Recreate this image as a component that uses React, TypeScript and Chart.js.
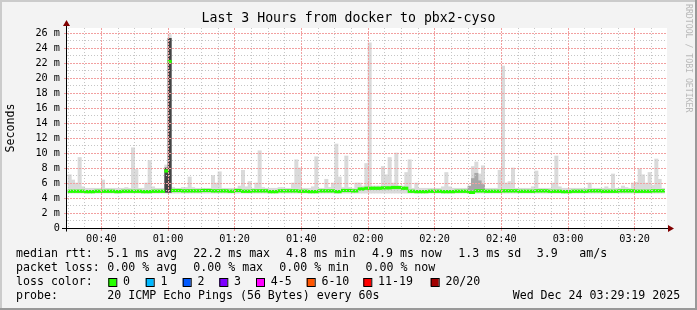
import React, { useEffect, useRef } from 'react';
import { Chart, registerables } from 'chart.js';

Chart.register(...registerables);

const W = 697;
const H = 310;

// ---- data ----
const WINDOW_START = '00:29:42';
const WINDOW_END = '03:29:42';
const FIRST_SAMPLE = '00:30';

// upper edge of the smoke (ms), one value per minute from 00:30
const smokeMax = [
  7.1, 6.4, 6.0, 9.4, 5.5, 5.3, 5.3, 5.3, 5.3, 5.3,
  6.4, 5.3, 5.3, 5.3, 5.3, 5.3, 5.3, 5.4, 5.3, 10.7,
  7.8, 5.3, 5.3, 6.0, 9.0, 5.5, 5.3, 5.3, 5.3, 8.4,
  25.8, 5.4, 5.3, 5.3, 5.4, 5.4, 6.8, 5.4, 5.3, 5.3,
  5.3, 5.3, 5.3, 7.0, 6.0, 7.5, 5.3, 5.3, 5.3, 5.3,
  5.3, 5.6, 7.7, 5.5, 6.2, 5.3, 6.0, 10.3, 5.4, 5.3,
  5.3, 5.3, 5.3, 5.4, 5.4, 5.3, 5.3, 6.0, 9.1, 8.0,
  5.3, 5.3, 5.3, 5.5, 9.5, 5.3, 5.3, 6.5, 5.4, 6.0,
  11.2, 6.8, 5.4, 9.6, 5.4, 5.3, 6.0, 6.0, 5.6, 8.6,
  24.7, 5.6, 5.6, 5.6, 8.2, 7.1, 9.4, 6.0, 10.0, 5.6,
  5.6, 7.4, 9.1, 5.3, 6.0, 5.3, 5.3, 5.3, 5.3, 5.3,
  5.3, 5.3, 5.5, 7.4, 5.5, 5.3, 5.3, 5.3, 5.3, 5.3,
  5.5, 8.2, 8.8, 7.2, 8.3, 5.3, 5.3, 5.3, 5.3, 7.7,
  21.6, 6.0, 6.2, 8.0, 5.3, 5.3, 5.3, 5.3, 5.3, 5.5,
  7.6, 5.3, 5.3, 5.3, 5.3, 6.0, 9.6, 5.5, 5.3, 5.3,
  5.3, 5.3, 5.3, 5.3, 5.3, 5.3, 6.0, 5.3, 5.3, 5.3,
  5.3, 5.5, 5.3, 7.2, 5.3, 5.3, 5.6, 5.4, 5.3, 6.0,
  6.1, 7.9, 7.1, 6.0, 7.4, 5.7, 9.2, 6.5, 5.3, null,
];
const SMOKE_FLOOR = 4.65;

// median rtt (ms), one value per minute from 00:30
const median = [
  4.9, 4.9, 4.9, 4.9, 4.9, 4.85, 4.85, 4.85, 4.9, 4.9,
  4.9, 4.9, 4.9, 4.9, 4.85, 4.85, 4.9, 4.9, 4.9, 4.9,
  4.9, 4.9, 4.85, 4.85, 4.85, 4.9, 4.9, 4.9, 4.9, 7.6,
  22.2, 5.0, 5.0, 5.0, 4.95, 4.95, 4.95, 4.95, 4.95, 4.95,
  5.0, 5.0, 5.0, 4.95, 4.95, 4.95, 4.95, 4.95, 4.9, 4.9,
  5.0, 5.0, 4.9, 4.9, 4.9, 4.95, 4.95, 4.95, 4.95, 4.95,
  4.85, 4.85, 4.85, 4.95, 4.95, 4.95, 4.95, 4.95, 4.95, 4.9,
  4.9, 4.9, 4.85, 4.85, 4.85, 4.95, 4.95, 4.95, 4.95, 4.95,
  4.85, 4.85, 5.0, 5.0, 5.0, 4.95, 4.95, 5.2, 5.2, 5.3,
  5.3, 5.3, 5.3, 5.3, 5.35, 5.35, 5.35, 5.4, 5.4, 5.4,
  5.3, 5.3, 4.9, 4.9, 4.85, 4.85, 4.85, 4.85, 4.9, 4.9,
  4.9, 4.9, 4.85, 4.85, 4.85, 4.85, 4.9, 4.9, 4.9, 4.9,
  4.75, 4.75, 4.95, 4.95, 4.95, 4.9, 4.9, 4.9, 4.9, 4.9,
  4.95, 4.95, 4.95, 4.95, 4.95, 4.9, 4.9, 4.9, 4.9, 4.9,
  4.95, 4.95, 4.95, 4.95, 4.9, 4.9, 4.9, 4.9, 4.85, 4.85,
  4.85, 4.9, 4.9, 4.9, 4.9, 4.9, 4.95, 4.95, 4.95, 4.95,
  4.9, 4.9, 4.9, 4.9, 4.9, 4.95, 4.95, 4.95, 4.95, 4.95,
  4.9, 4.9, 4.9, 4.9, 4.9, 4.95, 4.95, 4.95, 4.95, null,
];

// dense (dark) part of the smoke
const darkTimes = ['00:59', '01:00'];
const darkTop = [8.0, 25.3];
// medium part of the smoke
const midTimes = ['02:30', '02:31', '02:32', '02:33', '02:34'];
const midTop = [5.6, 6.6, 7.3, 6.3, 5.8];

const xTickLabels = ['00:40', '01:00', '01:20', '01:40', '02:00', '02:20', '02:40', '03:00', '03:20'];
const yTickValues = [0, 2, 4, 6, 8, 10, 12, 14, 16, 18, 20, 22, 24, 26];
const yTickLabels = ['0', '2 m', '4 m', '6 m', '8 m', '10 m', '12 m', '14 m', '16 m', '18 m', '20 m', '22 m', '24 m', '26 m'];
const Y_MAX = 26.67;

const titleText = 'Last 3 Hours from docker to pbx2-cyso';
const yTitle = 'Seconds';
const rttLabel = 'median rtt:';
const rttStats = ['5.1 ms avg', '22.2 ms max', '4.8 ms min', '4.9 ms now', '1.3 ms sd', '3.9', 'am/s'];
const lossLabel = 'packet loss:';
const lossStats = ['0.00 % avg', '0.00 % max', '0.00 % min', '0.00 % now'];
const colorLabel = 'loss color:';
const lossLabels = ['0', '1', '2', '3', '4-5', '6-10', '11-19', '20/20'];
const lossColors = ['#26ff00', '#00b8ff', '#0059ff', '#7e00ff', '#ff00ff', '#ff5500', '#ff0000', '#a10000'];
const probeLabel = 'probe:';
const probeText = '20 ICMP Echo Pings (56 Bytes) every 60s';
const stampText = 'Wed Dec 24 03:29:19 2025';
const watermark = 'RRDTOOL / TOBI OETIKER';

// ---- helpers ----
const toMin = (s: string) => {
  const p = s.split(':').map(Number);
  return p[0] * 60 + p[1] + (p[2] || 0) / 60;
};

const MONO = '"DejaVu Sans Mono", "Liberation Mono", monospace';
const MEDIAN_HALF = 0.17;
const MAJOR_GRID = '#f2a0a0';
const MINOR_GRID = '#c6c6c6';

// layout positions
const rttX = [107.3, 193.3, 286, 372, 458.3, 536.7, 579.3];
const lossX = [107.3, 193.3, 279.3, 365.5];
const swatchX = [108.3, 145.7, 182.7, 219.3, 256, 306.7, 363.3, 430.7];

const decorPlugin = {
  id: 'decor',
  beforeDraw(chart: any) {
    const { ctx, chartArea: a } = chart;
    ctx.save();
    ctx.fillStyle = '#f3f3f3';
    ctx.fillRect(0, 0, W, H);
    ctx.fillStyle = '#cbcbcb';
    ctx.fillRect(0, 0, W, 2);
    ctx.fillRect(0, 0, 2, H);
    ctx.fillStyle = '#999999';
    ctx.fillRect(0, H - 2, W, 2);
    ctx.fillRect(W - 2, 0, 2, H);
    ctx.fillStyle = '#ffffff';
    ctx.fillRect(a.left, a.top, a.right - a.left, a.bottom - a.top);
    ctx.restore();
  },
  afterDraw(chart: any) {
    const { ctx, chartArea: a } = chart;
    ctx.save();
    // axes
    const ax = Math.floor(a.left) - 0.5;
    const ay = Math.round(a.bottom) + 0.5;
    ctx.strokeStyle = '#000';
    ctx.lineWidth = 1;
    ctx.beginPath();
    ctx.moveTo(a.left - 5, ay);
    ctx.lineTo(a.right + 1, ay);
    ctx.moveTo(ax, ay + 3);
    ctx.lineTo(ax, a.top - 2);
    ctx.stroke();
    ctx.fillStyle = '#800000';
    ctx.beginPath();
    ctx.moveTo(ax - 3.5, a.top - 2);
    ctx.lineTo(ax + 3.5, a.top - 2);
    ctx.lineTo(ax, a.top - 8);
    ctx.closePath();
    ctx.fill();
    ctx.beginPath();
    ctx.moveTo(a.right + 1, ay - 3.5);
    ctx.lineTo(a.right + 1, ay + 3.5);
    ctx.lineTo(a.right + 7, ay);
    ctx.closePath();
    ctx.fill();

    // title
    ctx.fillStyle = '#000';
    ctx.font = `13.2px ${MONO}`;
    ctx.textAlign = 'center';
    ctx.textBaseline = 'middle';
    ctx.fillText(titleText, 348.5, 19);

    // vertical unit label
    ctx.save();
    ctx.translate(11, 128);
    ctx.rotate(-Math.PI / 2);
    ctx.font = `11.6px ${MONO}`;
    ctx.fillText(yTitle, 0, 0);
    ctx.restore();

    // watermark
    ctx.save();
    ctx.translate(688, 4);
    ctx.rotate(Math.PI / 2);
    ctx.textAlign = 'left';
    ctx.fillStyle = '#b8b8b8';
    ctx.font = `8.2px ${MONO}`;
    ctx.fillText(watermark, 0, 0);
    ctx.restore();

    // legend
    ctx.font = `11.6px ${MONO}`;
    ctx.textAlign = 'left';
    ctx.textBaseline = 'middle';
    ctx.fillStyle = '#000';
    ctx.fillText(rttLabel, 16, 254);
    rttStats.forEach((s, i) => ctx.fillText(s, rttX[i], 254));
    ctx.fillText(lossLabel, 16, 268);
    lossStats.forEach((s, i) => ctx.fillText(s, lossX[i], 268));
    ctx.fillText(colorLabel, 16, 282);
    lossLabels.forEach((s, i) => {
      const x = swatchX[i];
      ctx.fillStyle = lossColors[i];
      ctx.fillRect(x, 278, 8, 8);
      ctx.strokeStyle = '#000';
      ctx.strokeRect(x + 0.5, 278.5, 8, 8);
      ctx.fillStyle = '#000';
      ctx.fillText(s, x + 14.7, 282);
    });
    ctx.fillText(probeLabel, 16, 296);
    ctx.fillText(probeText, 107.3, 296);
    ctx.fillText(stampText, 512.7, 296);
    ctx.restore();
  },
};

export default function App() {
  const ref = useRef<HTMLCanvasElement | null>(null);

  useEffect(() => {
    const canvas = ref.current;
    if (!canvas) return;
    const t0 = toMin(FIRST_SAMPLE);
    const smokeData: any[] = [];
    const medianData: any[] = [];
    smokeMax.forEach((v, i) => {
      if (v != null) smokeData.push({ x: t0 + i + 0.5, y: [SMOKE_FLOOR, v] });
    });
    median.forEach((v, i) => {
      if (v != null) medianData.push({ x: t0 + i + 0.5, y: [v - MEDIAN_HALF, v + MEDIAN_HALF] });
    });
    const darkData = darkTimes.map((t, i) => ({ x: toMin(t) + 0.5, y: [SMOKE_FLOOR + 0.1, darkTop[i]] }));
    const midData = midTimes.map((t, i) => ({ x: toMin(t) + 0.5, y: [SMOKE_FLOOR + 0.2, midTop[i]] }));

    const xMajor = xTickLabels.map(toMin);
    const xMin = toMin(WINDOW_START);
    const xMax = toMin(WINDOW_END);
    const gridMinutes: number[] = [];
    for (let m = Math.ceil(xMin / 5) * 5; m <= xMax; m += 5) gridMinutes.push(m);
    const yGrid: number[] = [];
    for (let v = 0; v <= Math.floor(Y_MAX); v += 1) yGrid.push(v);

    const isXMajor = (v: number) => xMajor.some((m) => Math.abs(m - v) < 1e-6);
    const isYMajor = (v: number) => yTickValues.includes(v);

    const barCommon = {
      grouped: false,
      barPercentage: 1,
      categoryPercentage: 1,
      borderWidth: 0,
    };

    const chart = new Chart(canvas, {
      type: 'bar',
      data: {
        datasets: [
          { ...barCommon, label: 'smoke', data: smokeData, backgroundColor: '#dadada', order: 4 } as any,
          { ...barCommon, label: 'mid', data: midData, backgroundColor: '#a8a8a8', order: 3 } as any,
          { ...barCommon, label: 'dense', data: darkData, backgroundColor: '#444444', order: 2 } as any,
          { ...barCommon, label: 'median', data: medianData, backgroundColor: '#26ff00', order: 1 } as any,
        ],
      },
      options: {
        animation: false,
        responsive: false,
        events: [],
        layout: { padding: { left: 0, top: 28, right: 30, bottom: 0 } },
        plugins: { legend: { display: false }, tooltip: { enabled: false }, title: { display: false } },
        scales: {
          x: {
            type: 'linear',
            min: xMin,
            max: xMax,
            offset: false,
            grid: {
              offset: false,
              z: 1,
              lineWidth: 1,
              drawTicks: true,
              tickLength: 3,
              color: (c: any) => (isXMajor(c.tick?.value) ? MAJOR_GRID : MINOR_GRID),
              tickColor: (c: any) => (isXMajor(c.tick?.value) ? MAJOR_GRID : 'rgba(0,0,0,0)'),
            },
            border: {
              display: false,
              dash: (c: any) => (isXMajor(c.tick?.value) ? [2, 1] : [1, 2]),
            },
            ticks: {
              autoSkip: false,
              maxRotation: 0,
              padding: 2,
              color: '#000',
              font: { family: MONO, size: 10.2 },
              callback: (v: any) => {
                const i = xMajor.findIndex((m) => Math.abs(m - Number(v)) < 1e-6);
                return i >= 0 ? xTickLabels[i] : '';
              },
            },
            afterBuildTicks: (s: any) => {
              s.ticks = gridMinutes.map((v) => ({ value: v }));
            },
            afterFit: (s: any) => {
              s.height = H - 228;
            },
          } as any,
          y: {
            type: 'linear',
            min: 0,
            max: Y_MAX,
            grid: {
              z: 1,
              lineWidth: 1,
              drawTicks: true,
              tickLength: 3,
              color: (c: any) => (isYMajor(c.tick?.value) ? MAJOR_GRID : MINOR_GRID),
              tickColor: (c: any) => (isYMajor(c.tick?.value) ? MAJOR_GRID : 'rgba(0,0,0,0)'),
            },
            border: {
              display: false,
              dash: (c: any) => (isYMajor(c.tick?.value) ? [2, 1] : [1, 2]),
            },
            ticks: {
              autoSkip: false,
              padding: 4,
              color: '#000',
              font: { family: MONO, size: 10.2 },
              callback: (v: any) => {
                const i = yTickValues.indexOf(Number(v));
                return i >= 0 ? yTickLabels[i] : '';
              },
            },
            afterBuildTicks: (s: any) => {
              s.ticks = yGrid.map((v) => ({ value: v }));
            },
            afterFit: (s: any) => {
              s.width = 67;
            },
          } as any,
        },
      },
      plugins: [decorPlugin],
    });
    return () => chart.destroy();
  }, []);

  return (
    <canvas
      ref={ref}
      width={W}
      height={H}
      style={{ position: 'fixed', left: 0, top: 0, width: W, height: H, display: 'block' }}
    />
  );
}
